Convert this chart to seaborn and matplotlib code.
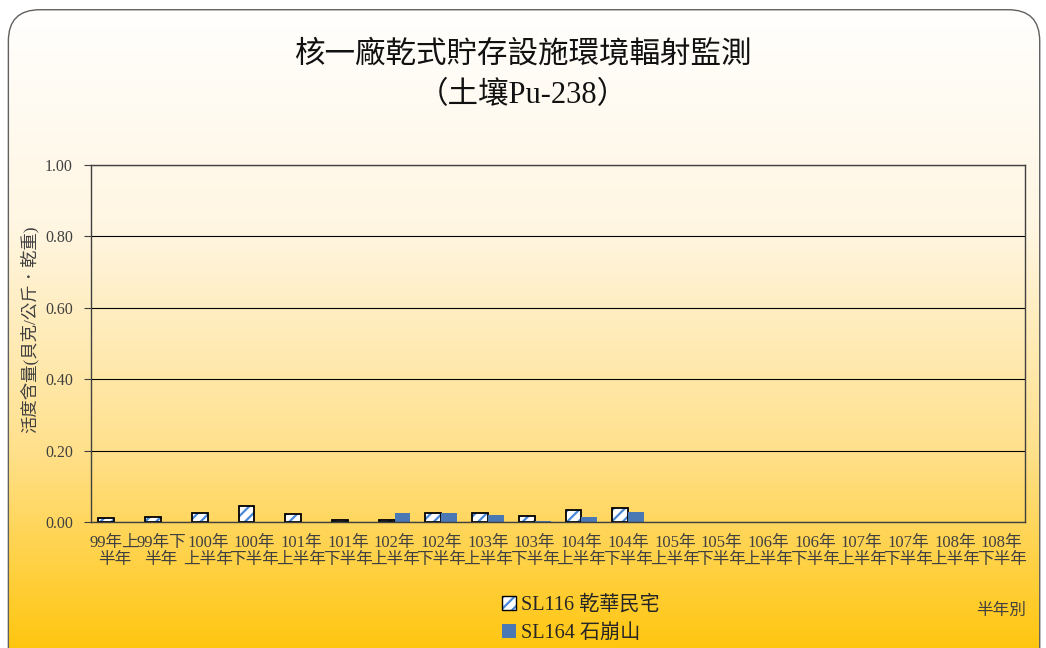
import matplotlib
matplotlib.use("Agg")
import matplotlib.pyplot as plt
from matplotlib.patches import FancyBboxPatch, Patch
from matplotlib.colors import LinearSegmentedColormap, to_rgba
import numpy as np
import pandas as pd
import seaborn as sns

# half-year periods
periods = ["99年上\n半年", "99年下\n半年",
           "100年\n上半年", "100年\n下半年", "101年\n上半年", "101年\n下半年",
           "102年\n上半年", "102年\n下半年", "103年\n上半年", "103年\n下半年",
           "104年\n上半年", "104年\n下半年", "105年\n上半年", "105年\n下半年",
           "106年\n上半年", "106年\n下半年", "107年\n上半年", "107年\n下半年",
           "108年\n上半年", "108年\n下半年"]
nan = np.nan
sl116 = [0.010, 0.013, 0.026, 0.046, 0.022, 0.006, 0.006, 0.024, 0.024, 0.018,
         0.034, 0.038, nan, nan, nan, nan, nan, nan, nan, nan]
sl164 = [nan, nan, nan, nan, nan, nan, 0.024, 0.024, 0.021, 0.003,
         0.015, 0.028, nan, nan, nan, nan, nan, nan, nan, nan]
stations = ["SL116 乾華民宅", "SL164 石崩山"]

df = pd.DataFrame({
    "period": periods * 2,
    "value": sl116 + sl164,
    "station": [stations[0]] * len(periods) + [stations[1]] * len(periods),
})

sns.set_style("white")
fonts = ["Liberation Serif", "Noto Sans CJK TC", "DejaVu Sans"]
plt.rcParams["font.family"] = fonts
plt.rcParams["hatch.linewidth"] = 1.6

fig = plt.figure(figsize=(10.46, 6.48), dpi=100)

# gradient background inside a rounded frame
bg = fig.add_axes([0, 0, 1, 1], zorder=-5)
bg.set_xlim(0, 1)
bg.set_ylim(0, 1)
bg.axis("off")
cmap = LinearSegmentedColormap.from_list(
    "bg", [(0, "#ffffff"), (0.35, "#fff6e2"), (0.7, "#ffe08a"), (1, "#ffc610")])
grad = np.linspace(0, 1, 256).reshape(-1, 1)
im = bg.imshow(grad, aspect="auto", cmap=cmap, extent=[0, 1, 0, 1], origin="upper")
frame = FancyBboxPatch((0.008, -0.05), 0.986, 1.035,
                       boxstyle="round,pad=0,rounding_size=0.03",
                       transform=bg.transAxes, facecolor="none",
                       edgecolor="#606060", linewidth=1.0,
                       mutation_aspect=1046 / 648)
bg.add_patch(frame)
im.set_clip_path(frame)

ax = fig.add_axes([0.087, 0.1944, 0.893, 0.551])
ax.set_facecolor("none")
sns.barplot(data=df, x="period", y="value", hue="station", order=periods,
            hue_order=stations, palette=["white", "#4a78b4"], width=0.68,
            ax=ax, legend=False, saturation=1)

blue = to_rgba("#4a88d8")
for bar in ax.containers[0]:
    bar.set_hatch("///")
    bar.set_edgecolor("black")
    bar.set_linewidth(1.3)
    bar._hatch_color = blue
for bar in ax.containers[1]:
    bar.set_edgecolor("none")

ax.set_ylim(0, 1)
ax.set_xlim(-0.5, len(periods) - 0.5)
ax.set_yticks(np.arange(0, 1.01, 0.2))
ax.set_yticklabels([f"{v:.2f}" for v in np.arange(0, 1.01, 0.2)])
ax.yaxis.grid(True, color="black", linewidth=0.8)
ax.set_axisbelow(True)
for s in ax.spines.values():
    s.set_color("#404040")
    s.set_linewidth(1.0)

ax.set_xticks(np.arange(len(periods)))
ax.set_xticklabels(periods, fontsize=12, color="#404040", linespacing=1.15)
ax.tick_params(axis="x", length=0, pad=9)
ax.set_xticks(np.arange(len(periods) + 1) - 0.5, minor=True)
ax.tick_params(axis="x", which="minor", direction="in", length=5, color="#404040")
ax.tick_params(axis="y", direction="out", length=5, color="#404040",
               labelsize=11.5, labelcolor="#404040", left=True, pad=8)

ax.set_xlabel("")
ax.set_ylabel("活度含量(貝克/公斤．乾重)", fontsize=12.5, color="#404040")
ax.yaxis.set_label_coords(-0.056, 0.54)

fig.text(0.5, 0.915, "核一廠乾式貯存設施環境輻射監測", ha="center", va="center",
         fontsize=22, color="#111111")
fig.text(0.5, 0.853, "（土壤Pu-238）", ha="center", va="center",
         fontsize=22, color="#111111")

handles = [Patch(facecolor="white", edgecolor="black", hatch="///"),
           Patch(facecolor="#4a78b4", edgecolor="none")]
leg = fig.legend(handles, stations, loc="center", bbox_to_anchor=(0.555, 0.044),
                 ncol=1, frameon=False, fontsize=14.5, handlelength=0.7,
                 handleheight=0.7, handletextpad=0.25, labelspacing=0.45,
                 borderpad=0)
leg.legend_handles[0]._hatch_color = blue

fig.text(0.957, 0.057, "半年別", ha="center", va="center", fontsize=12,
         color="#404040")

fig.savefig("out.png", dpi=100)
